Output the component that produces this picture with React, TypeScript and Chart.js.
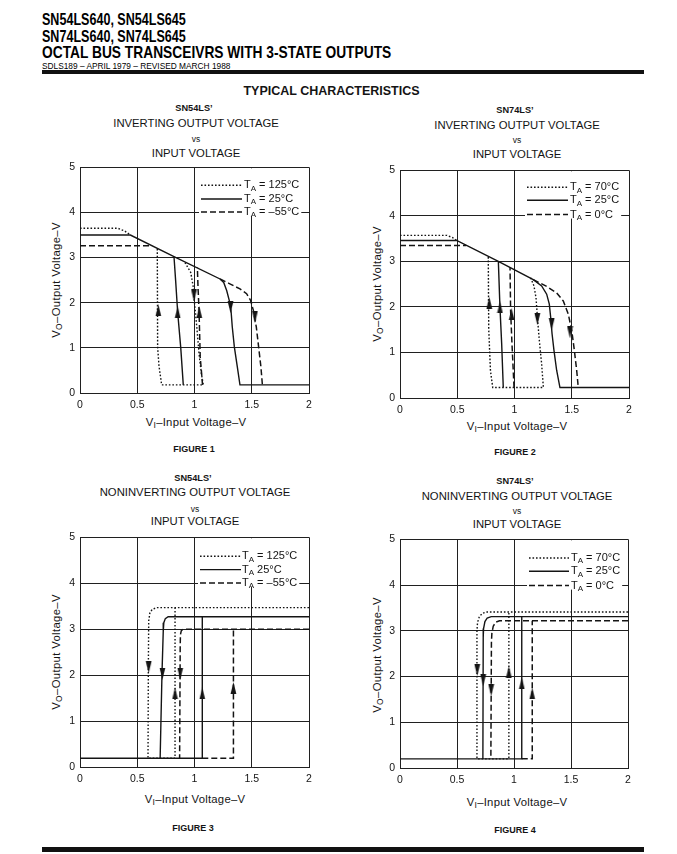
import React, { useEffect, useLayoutEffect, useRef, useState } from "react";
import { Chart, registerables } from "chart.js";

Chart.register(...registerables);

const INK = "#141414";
const GRID = "#202020";
const SANS = '"Liberation Sans", Arial, Helvetica, sans-serif';

// ---------- axes ----------
const X_TICKS = [0, 0.5, 1, 1.5, 2];
const Y_TICKS = [0, 1, 2, 3, 4, 5];

// ---------- Figure 1 : SN54LS' inverting ----------
const F1_125_X = [0, 0.33, 0.39, 0.44, 0.44, 0.917, 0.967, 0.99, 0.998, 1.02, 1.04, 1.06, 1.077, 0.713, 0.69, 0.678, 0.675];
const F1_125_Y = [3.65, 3.65, 3.59, 3.5, null, 2.89, 2.67, 2.34, 2.05, 1.46, 0.87, 0.43, 0.18, 0.18, 0.6, 1.02, 3.22];
const F1_25_X = [0, 0.44, 0.821, 1.223, 1.255, 1.281, 1.304, 1.319, 1.33, 1.348, 1.374, 1.397, 2.0, 2.0, 0.902, 0.88, 0.853, 0.835, 0.821];
const F1_25_Y = [3.5, 3.5, 3.02, 2.526, 2.45, 2.269, 2.048, 1.828, 1.461, 1.021, 0.58, 0.18, 0.18, null, 0.18, 1.0, 1.79, 2.5, 3.02];
const F1_M55_X = [0, 0.63, 0.63, 1.223, 1.3, 1.397, 1.455, 1.49, 1.514, 1.54, 1.56, 1.58, 1.593, 1.593, 1.07, 1.05, 1.04, 1.03, 1.025];
const F1_M55_Y = [3.26, 3.26, null, 2.526, 2.43, 2.305, 2.2, 2.05, 1.83, 1.46, 1.02, 0.58, 0.18, null, 0.18, 0.8, 1.79, 2.4, 2.78];
const F1_ARROW_X = [0.684, 0.853, 0.996, 1.042, 1.315, 1.528];
const F1_ARROW_Y = [1.83, 1.79, 2.16, 1.79, 1.9, 1.68];
const F1_ARROW_UP = [true, true, false, true, false, false];
const F1_LEGEND = ["= 125°C", "= 25°C", "= –55°C"];

// ---------- Figure 2 : SN74LS' inverting ----------
const F2_70_X = [0, 0.41, 0.46, 0.495, 0.495, 1.141, 1.17, 1.188, 1.2, 1.217, 1.237, 1.252, 0.81, 0.79, 0.775, 0.771];
const F2_70_Y = [3.57, 3.57, 3.52, 3.46, null, 2.64, 2.46, 2.2, 1.77, 1.26, 0.75, 0.23, 0.23, 0.6, 1.5, 3.1];
const F2_25_X = [0, 0.495, 0.859, 1.164, 1.237, 1.281, 1.304, 1.316, 1.328, 1.345, 1.368, 1.397, 2.0, 2.0, 0.902, 0.888, 0.873, 0.859];
const F2_25_Y = [3.46, 3.46, 3.0, 2.6, 2.46, 2.28, 2.06, 1.77, 1.41, 1.04, 0.61, 0.23, 0.23, null, 0.23, 1.19, 1.99, 3.0];
const F2_0_X = [0, 0.578, 0.578, 1.164, 1.281, 1.368, 1.426, 1.47, 1.5, 1.523, 1.543, 1.557, 1.557, 0.996, 0.978, 0.966, 0.961];
const F2_0_Y = [3.35, 3.35, null, 2.6, 2.45, 2.31, 2.13, 1.84, 1.48, 1.04, 0.61, 0.23, null, 0.23, 1.19, 1.91, 2.87];
const F2_ARROW_X = [0.78, 0.873, 0.975, 1.2, 1.325, 1.485];
const F2_ARROW_Y = [2.09, 1.99, 1.84, 1.73, 1.62, 1.44];
const F2_ARROW_UP = [true, true, true, false, false, false];
const F2_LEGEND = ["= 70°C", "= 25°C", "= 0°C"];

// ---------- Figure 3 : SN54LS' noninverting ----------
const F3_125_X = [2.0, 0.67, 0.63, 0.61, 0.6, 0.597, 0.594, 0.83, 0.83];
const F3_125_Y = [3.47, 3.47, 3.43, 3.35, 3.18, 2.2, 0.19, 0.19, 3.47];
const F3_25_X = [0, 1.068, 1.068, 1.068, 2.0, 0.77, 0.745, 0.732, 0.727, 0.716, 0.7];
const F3_25_Y = [0.19, 0.19, 3.27, null, 3.27, 3.27, 3.23, 3.14, 2.95, 2.03, 0.19];
const F3_M55_X = [1.068, 1.34, 1.34, 1.34, 2.0, 0.9, 0.885, 0.877, 0.875, 0.87];
const F3_M55_Y = [0.19, 0.19, 3.0, null, 3.0, 3.0, 2.97, 2.88, 2.6, 0.19];
const F3_ARROW_X = [0.6, 0.72, 0.876, 0.83, 1.068, 1.34];
const F3_ARROW_Y = [2.17, 2.03, 2.03, 1.6, 1.6, 1.72];
const F3_ARROW_UP = [false, false, false, true, true, true];
const F3_LEGEND = ["= 125°C", "25°C", "= –55°C"];

// ---------- Figure 4 : SN74LS' noninverting ----------
const F4_70_X = [2.0, 0.757, 0.72, 0.695, 0.68, 0.675, 0.675, 0.955, 0.955];
const F4_70_Y = [3.41, 3.41, 3.38, 3.3, 3.18, 3.0, 0.2, 0.2, 3.41];
const F4_25_X = [0, 1.068, 1.068, 1.068, 2.0, 0.8, 0.765, 0.745, 0.733, 0.73, 0.727];
const F4_25_Y = [0.2, 0.2, 3.31, null, 3.31, 3.31, 3.28, 3.2, 3.05, 2.85, 0.2];
const F4_0_X = [1.068, 1.16, 1.16, 1.16, 2.0, 0.873, 0.84, 0.818, 0.806, 0.802, 0.797];
const F4_0_Y = [0.2, 0.2, 3.22, null, 3.22, 3.22, 3.19, 3.1, 2.95, 2.75, 0.2];
const F4_ARROW_X = [0.678, 0.73, 0.8, 0.955, 1.068, 1.16];
const F4_ARROW_Y = [2.14, 1.92, 1.7, 2.1, 1.85, 1.63];
const F4_ARROW_UP = [false, false, false, true, true, true];
const F4_LEGEND = ["= 70°C", "= 25°C", "= 0°C"];

// ---------- styles ----------
type Kind = "solid" | "dot" | "dash";
const STYLE: Record<Kind, { dash: number[]; width: number }> = {
  solid: { dash: [], width: 1.4 },
  dot: { dash: [1.6, 1.9], width: 1.4 },
  dash: { dash: [6, 3], width: 1.5 },
};
const LEGEND_KINDS: Kind[] = ["dot", "solid", "dash"];

function makeArrow(): HTMLCanvasElement {
  const c = document.createElement("canvas");
  c.width = 7;
  c.height = 12;
  const g = c.getContext("2d")!;
  g.fillStyle = INK;
  g.beginPath();
  g.moveTo(3.5, 0);
  g.lineTo(6.4, 12);
  g.lineTo(0.6, 12);
  g.closePath();
  g.fill();
  return c;
}

const legendPlugin = {
  id: "tiLegend",
  afterDraw(chart: any, _args: any, opts: any) {
    if (!opts || !opts.labels) return;
    const { ctx, chartArea: a } = chart;
    const main = `11px ${SANS}`;
    const sub = `8px ${SANS}`;
    ctx.save();
    let maxEnd = 0;
    for (let i = 0; i < 3; i++) {
      ctx.font = main;
      let w = ctx.measureText("T").width;
      ctx.font = sub;
      w += ctx.measureText("A").width;
      ctx.font = main;
      w += ctx.measureText(" " + opts.labels[i]).width;
      maxEnd = Math.max(maxEnd, a.left + opts.tx + w);
    }
    const bx = a.left + opts.sx0 - 2;
    ctx.fillStyle = "#ffffff";
    ctx.fillRect(bx, a.top + 1, maxEnd + 2 - bx, opts.rows[2] + 3);
    for (let i = 0; i < 3; i++) {
      const y = a.top + opts.rows[i];
      const st = STYLE[LEGEND_KINDS[i]];
      ctx.setLineDash(st.dash);
      ctx.lineWidth = st.width;
      ctx.strokeStyle = INK;
      ctx.beginPath();
      ctx.moveTo(a.left + opts.sx0, y);
      ctx.lineTo(a.left + opts.sx1, y);
      ctx.stroke();
      ctx.setLineDash([]);
      let x = a.left + opts.tx;
      ctx.fillStyle = INK;
      ctx.textBaseline = "middle";
      ctx.textAlign = "left";
      ctx.font = main;
      ctx.fillText("T", x, y);
      x += ctx.measureText("T").width;
      ctx.font = sub;
      ctx.fillText("A", x, y + 3);
      x += ctx.measureText("A").width;
      ctx.font = main;
      ctx.fillText(" " + opts.labels[i], x, y);
    }
    ctx.restore();
  },
};

type Curve = { xs: number[]; ys: (number | null)[]; kind: Kind };
type PlotProps = {
  frame: [number, number, number, number];
  curves: Curve[];
  arrowX: number[];
  arrowY: number[];
  arrowUp: boolean[];
  legend: { labels: string[]; sx0: number; sx1: number; tx: number; rows: number[] };
};

const PAD_L = 40, PAD_T = 10, PAD_R = 12, PAD_B = 40;

function Plot({ frame, curves, arrowX, arrowY, arrowUp, legend }: PlotProps) {
  const ref = useRef<HTMLCanvasElement>(null);
  const [L, T, R, B] = frame;
  const w = R - L + PAD_L + PAD_R;
  const h = B - T + PAD_T + PAD_B;
  useEffect(() => {
    const canvas = ref.current!;
    const arrowImg = makeArrow();
    const tickFont = { family: SANS, size: 10.5 };
    const datasets: any[] = [...curves]
      .sort((p, q) => (p.kind === "solid" ? -1 : 0) - (q.kind === "solid" ? -1 : 0))
      .map((c) => ({
        data: c.xs.map((x, i) => ({ x, y: c.ys[i] })),
        borderColor: INK,
        borderWidth: STYLE[c.kind].width,
        borderDash: STYLE[c.kind].dash,
        borderCapStyle: "butt",
        pointRadius: 0,
        tension: 0,
        fill: false,
        spanGaps: false,
      }));
    datasets.unshift({
      data: arrowX.map((x, i) => ({ x, y: arrowY[i] })),
      showLine: false,
      pointStyle: arrowImg,
      pointRadius: 6,
      pointRotation: (ctx: any) => (arrowUp[ctx.dataIndex] ? 0 : 180),
    });
    const chart = new Chart(canvas, {
      type: "line",
      data: { datasets },
      options: {
        responsive: false,
        animation: false,
        events: [],
        layout: { padding: { top: PAD_T, right: PAD_R, left: 0, bottom: 0 } },
        plugins: {
          legend: { display: false },
          tooltip: { enabled: false },
          tiLegend: legend,
        } as any,
        scales: {
          x: {
            type: "linear",
            min: X_TICKS[0],
            max: X_TICKS[X_TICKS.length - 1],
            afterBuildTicks: (s: any) => {
              s.ticks = X_TICKS.map((v) => ({ value: v }));
            },
            afterFit: (s: any) => {
              s.height = PAD_B;
            },
            ticks: {
              padding: 6,
              color: INK,
              font: tickFont,
              maxRotation: 0,
              autoSkip: false,
              callback: (v: any) => String(v),
            },
            grid: { color: GRID, lineWidth: 1, drawTicks: false },
            border: { color: GRID, width: 1 },
          },
          y: {
            type: "linear",
            min: Y_TICKS[0],
            max: Y_TICKS[Y_TICKS.length - 1],
            afterBuildTicks: (s: any) => {
              s.ticks = Y_TICKS.map((v) => ({ value: v }));
            },
            afterFit: (s: any) => {
              s.width = PAD_L;
            },
            ticks: { padding: 5, color: INK, font: tickFont, autoSkip: false, callback: (v: any) => String(v) },
            grid: { color: GRID, lineWidth: 1, drawTicks: false },
            border: { color: GRID, width: 1 },
          },
        },
      } as any,
      plugins: [legendPlugin as any],
    });
    return () => chart.destroy();
  }, []);
  return (
    <canvas
      ref={ref}
      width={w}
      height={h}
      style={{ position: "absolute", left: L - PAD_L, top: T - PAD_T, width: w, height: h }}
    />
  );
}

type TxtProps = {
  x: number;
  y: number;
  size: number;
  bold?: boolean;
  rotate?: boolean;
  spacing?: number;
  children: React.ReactNode;
};
function Txt({ x, y, size, bold, rotate, spacing, children }: TxtProps) {
  return (
    <div
      style={{
        position: "absolute",
        left: x,
        top: y,
        transform: `translate(-50%, -50%)${rotate ? " rotate(-90deg)" : ""}`,
        fontSize: size,
        fontWeight: bold ? 700 : 400,
        fontFamily: SANS,
        letterSpacing: spacing || 0,
        whiteSpace: "nowrap",
        lineHeight: 1,
        color: INK,
      }}
    >
      {children}
    </div>
  );
}

// left-aligned text squeezed horizontally to a target width (condensed face)
function FitTxt({ x, y, w, size, bold, children }: { x: number; y: number; w: number; size: number; bold?: boolean; children: React.ReactNode }) {
  const ref = useRef<HTMLDivElement>(null);
  const [sx, setSx] = useState(0.8);
  useLayoutEffect(() => {
    const el = ref.current;
    if (el && el.scrollWidth > 0) setSx(w / el.scrollWidth);
  }, []);
  return (
    <div
      ref={ref}
      style={{
        position: "absolute",
        left: x,
        top: y,
        transform: `translateY(-50%) scaleX(${sx})`,
        transformOrigin: "0 50%",
        fontSize: size,
        fontWeight: bold ? 700 : 400,
        fontFamily: SANS,
        whiteSpace: "nowrap",
        lineHeight: 1,
        color: "#000",
      }}
    >
      {children}
    </div>
  );
}

const Sub = ({ c }: { c: string }) => (
  <span style={{ fontSize: "0.75em", position: "relative", top: "0.25em" }}>{c}</span>
);

function ChartTexts({
  cx, t, lines, xTitleY, yTitleX, yTitleY, fig, figY,
}: {
  cx: number; t: number[]; lines: string[]; xTitleY: number; yTitleX: number; yTitleY: number; fig: string; figY: number;
}) {
  return (
    <>
      <Txt x={cx - 2} y={t[0]} size={9.2} bold>{lines[0]}</Txt>
      <Txt x={cx} y={t[1]} size={11.3}>{lines[1]}</Txt>
      <Txt x={cx} y={t[2]} size={8.5}>vs</Txt>
      <Txt x={cx} y={t[3]} size={11.3}>INPUT VOLTAGE</Txt>
      <Txt x={cx} y={xTitleY} size={11.3} spacing={0.25}>
        V<Sub c="I" />–Input Voltage–V
      </Txt>
      <Txt x={yTitleX} y={yTitleY} size={11.3} spacing={0.35} rotate>
        V<Sub c="O" />–Output Voltage–V
      </Txt>
      <Txt x={cx - 2} y={figY} size={9} bold>{fig}</Txt>
    </>
  );
}

export default function App() {
  return (
    <div
      style={{
        position: "absolute",
        left: 0,
        top: 0,
        width: 677,
        height: 854,
        background: "#fff",
        overflow: "hidden",
        fontFamily: SANS,
      }}
    >
      <FitTxt x={42} y={19} w={144} size={17} bold>SN54LS640, SN54LS645</FitTxt>
      <FitTxt x={42} y={35.5} w={144} size={17} bold>SN74LS640, SN74LS645</FitTxt>
      <FitTxt x={42} y={52} w={349} size={17} bold>OCTAL BUS TRANSCEIVRS WITH 3-STATE OUTPUTS</FitTxt>
      <FitTxt x={42} y={65.5} w={188} size={8.5}>SDLS189 – APRIL 1979 – REVISED MARCH 1988</FitTxt>
      <div style={{ position: "absolute", left: 42, top: 70, width: 602, height: 4, background: "#111" }} />
      <Txt x={331.5} y={90.5} size={12.5} bold>TYPICAL CHARACTERISTICS</Txt>

      <ChartTexts cx={196} t={[109, 123.5, 138.5, 153.5]} lines={["SN54LS’", "INVERTING OUTPUT VOLTAGE"]}
        xTitleY={423} yTitleX={57} yTitleY={279.5} fig="FIGURE 1" figY={449} />
      <ChartTexts cx={517} t={[111, 125.5, 140, 155]} lines={["SN74LS’", "INVERTING OUTPUT VOLTAGE"]}
        xTitleY={427} yTitleX={378} yTitleY={283.5} fig="FIGURE 2" figY={452} />
      <ChartTexts cx={195} t={[479, 493, 508.5, 522]} lines={["SN54LS’", "NONINVERTING OUTPUT VOLTAGE"]}
        xTitleY={800} yTitleX={57} yTitleY={652} fig="FIGURE 3" figY={828} />
      <ChartTexts cx={517} t={[482, 496.5, 511, 525]} lines={["SN74LS’", "NONINVERTING OUTPUT VOLTAGE"]}
        xTitleY={803} yTitleX={378} yTitleY={655} fig="FIGURE 4" figY={830} />

      <Plot
        frame={[80, 166, 309, 393]}
        curves={[
          { xs: F1_125_X, ys: F1_125_Y, kind: "dot" },
          { xs: F1_25_X, ys: F1_25_Y, kind: "solid" },
          { xs: F1_M55_X, ys: F1_M55_Y, kind: "dash" },
        ]}
        arrowX={F1_ARROW_X}
        arrowY={F1_ARROW_Y}
        arrowUp={F1_ARROW_UP}
        legend={{ labels: F1_LEGEND, sx0: 121, sx1: 162, tx: 164, rows: [18, 31.7, 44.7] }}
      />
      <Plot
        frame={[400, 169, 629, 398]}
        curves={[
          { xs: F2_70_X, ys: F2_70_Y, kind: "dot" },
          { xs: F2_25_X, ys: F2_25_Y, kind: "solid" },
          { xs: F2_0_X, ys: F2_0_Y, kind: "dash" },
        ]}
        arrowX={F2_ARROW_X}
        arrowY={F2_ARROW_Y}
        arrowUp={F2_ARROW_UP}
        legend={{ labels: F2_LEGEND, sx0: 127, sx1: 168, tx: 170, rows: [17, 30, 44.3] }}
      />
      <Plot
        frame={[80, 536, 309, 767]}
        curves={[
          { xs: F3_125_X, ys: F3_125_Y, kind: "dot" },
          { xs: F3_25_X, ys: F3_25_Y, kind: "solid" },
          { xs: F3_M55_X, ys: F3_M55_Y, kind: "dash" },
        ]}
        arrowX={F3_ARROW_X}
        arrowY={F3_ARROW_Y}
        arrowUp={F3_ARROW_UP}
        legend={{ labels: F3_LEGEND, sx0: 120, sx1: 161, tx: 162, rows: [19, 32.3, 45.7] }}
      />
      <Plot
        frame={[400, 538, 628, 768]}
        curves={[
          { xs: F4_70_X, ys: F4_70_Y, kind: "dot" },
          { xs: F4_25_X, ys: F4_25_Y, kind: "solid" },
          { xs: F4_0_X, ys: F4_0_Y, kind: "dash" },
        ]}
        arrowX={F4_ARROW_X}
        arrowY={F4_ARROW_Y}
        arrowUp={F4_ARROW_UP}
        legend={{ labels: F4_LEGEND, sx0: 129, sx1: 169, tx: 171, rows: [18.7, 32, 46.3] }}
      />

      <div style={{ position: "absolute", left: 42, top: 847, width: 602, height: 5, background: "#111" }} />
    </div>
  );
}
